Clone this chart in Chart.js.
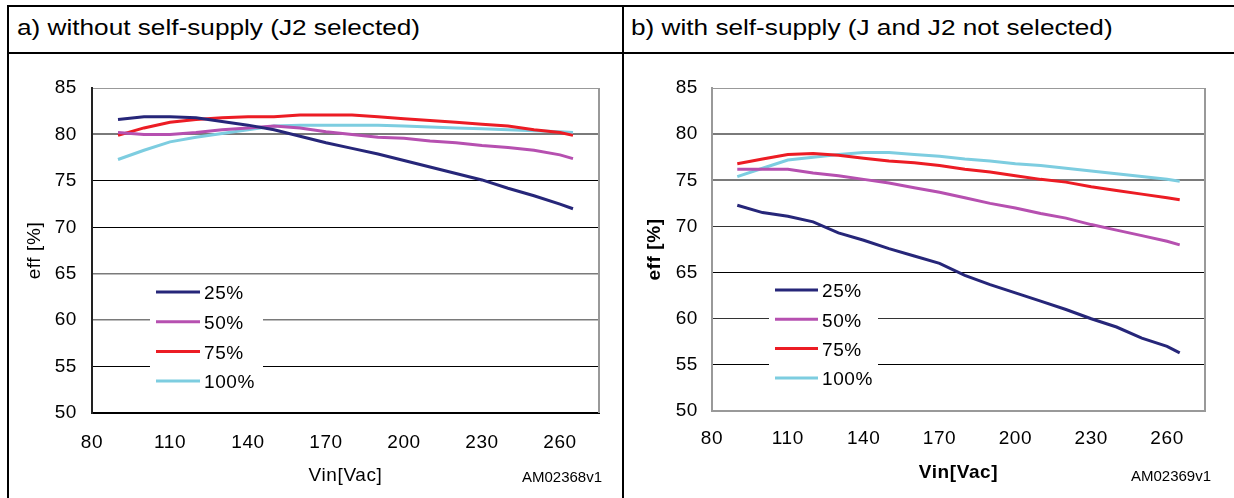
<!DOCTYPE html>
<html><head><meta charset="utf-8">
<script src="https://cdn.jsdelivr.net/npm/chart.js@4.4.0/dist/chart.umd.min.js"></script>
<style>
html,body{margin:0;padding:0;background:#fff;}
body{width:1234px;height:498px;position:relative;overflow:hidden;font-family:"Liberation Sans",Arial,sans-serif;color:#000;}
.ln{position:absolute;background:#000;}
.hdr{position:absolute;top:17px;font-size:22px;line-height:22px;white-space:nowrap;transform:scaleX(1.19);transform-origin:left top;}
.am{position:absolute;font-size:15px;line-height:15px;white-space:nowrap;}
canvas{position:absolute;}
</style></head>
<body>
<div class="ln" style="left:7px;top:5px;width:2px;height:493px"></div>
<div class="ln" style="left:7px;top:5px;width:1227px;height:2px"></div>
<div class="ln" style="left:7px;top:52px;width:1227px;height:2px"></div>
<div class="ln" style="left:622px;top:5px;width:2px;height:493px"></div>
<div class="hdr" style="left:17px">a) without self-supply (J2 selected)</div>
<div class="hdr" style="left:631px">b) with self-supply (J and J2 not selected)</div>
<canvas id="ca" width="612" height="443" style="left:10px;top:55px"></canvas>
<canvas id="cb" width="609" height="443" style="left:625px;top:55px"></canvas>
<div class="am" style="left:522px;top:469px">AM02368v1</div>
<div class="am" style="left:1131px;top:468px">AM02369v1</div>
<script>
// ---- data ----
const vin = [90,100,110,120,130,140,150,160,170,180,190,200,210,220,230,240,250,260,265];
const seriesNames = ['25%','50%','75%','100%'];
const a25  = [81.6,81.9,81.9,81.8,81.4,81.0,80.5,79.8,79.1,78.5,77.9,77.2,76.5,75.8,75.1,74.2,73.4,72.5,72.0];
const a50  = [80.2,80.0,80.0,80.2,80.5,80.7,80.9,80.7,80.3,80.0,79.7,79.6,79.3,79.1,78.8,78.6,78.3,77.8,77.4];
const a75  = [79.9,80.7,81.3,81.6,81.8,81.9,81.9,82.1,82.1,82.1,81.9,81.7,81.5,81.3,81.1,80.9,80.5,80.2,79.9];
const a100 = [77.3,78.3,79.2,79.7,80.1,80.5,80.9,81.0,81.0,81.0,81.0,80.9,80.8,80.7,80.6,80.5,80.4,80.3,80.2];
const b25  = [72.3,71.5,71.1,70.5,69.3,68.5,67.6,66.8,66.0,64.7,63.7,62.8,61.9,61.0,60.0,59.1,57.9,57.0,56.3];
const b50  = [76.2,76.2,76.2,75.8,75.5,75.1,74.7,74.2,73.7,73.1,72.5,72.0,71.4,70.9,70.2,69.6,69.0,68.4,68.0];
const b75  = [76.8,77.3,77.8,77.9,77.7,77.4,77.1,76.9,76.6,76.2,75.9,75.5,75.1,74.8,74.3,73.9,73.5,73.1,72.9];
const b100 = [75.4,76.3,77.2,77.5,77.8,78.0,78.0,77.8,77.6,77.3,77.1,76.8,76.6,76.3,76.0,75.7,75.4,75.1,74.9];
const xTicks = [80,110,140,170,200,230,260];
const yTicks = [50,55,60,65,70,75,80,85];
const xMin = 80, xMax = 275, yMin = 50, yMax = 85;

// ---- styles ----
const colors = ['#262679','#b650b0','#ec1c24','#7dcde0'];
const FONT = '"Liberation Sans", Arial, sans-serif';
const FS = 19;
const SPACING = '0.6px';

function pts(arr){ return arr.map((v,i)=>({x:vin[i], y:v})); }

const legendPlugin = {
  id:'boxLegend',
  afterInit(chart){ chart.ctx.letterSpacing = SPACING; },
  beforeDraw(chart){ chart.ctx.letterSpacing = SPACING; },
  beforeDatasetsDraw(chart, args, o){
    const ca = chart.chartArea, ctx = chart.ctx;
    ctx.save();
    ctx.fillStyle = '#fff';
    ctx.fillRect(ca.left + o.boxL, ca.top + o.boxT, o.boxW, o.boxH);
    ctx.font = FS + 'px ' + FONT;
    ctx.textBaseline = 'middle';
    ctx.textAlign = 'left';
    chart.data.datasets.forEach((ds,i)=>{
      const y = ca.top + o.row0 + i*o.rowH;
      ctx.strokeStyle = ds.borderColor;
      ctx.lineWidth = 3;
      ctx.beginPath();
      ctx.moveTo(ca.left + o.lineL, y);
      ctx.lineTo(ca.left + o.lineL + o.lineW, y);
      ctx.stroke();
      ctx.fillStyle = '#000';
      ctx.fillText(ds.label, ca.left + o.lineL + o.lineW + 4, y + 2);
    });
    ctx.restore();
  },
  afterDraw(chart, args, o){
    const ca = chart.chartArea, ctx = chart.ctx;
    ctx.save();
    ctx.strokeStyle = o.rightColor;
    ctx.lineWidth = 2;
    ctx.beginPath();
    ctx.moveTo(ca.right, ca.top);
    ctx.lineTo(ca.right, ca.bottom);
    ctx.stroke();
    ctx.restore();
  }
};

function build(id, data, cfg){
  return new Chart(document.getElementById(id), {
    type:'line',
    data:{ datasets: data.map((d,i)=>({
      label: seriesNames[i], data: pts(d), borderColor: colors[i], backgroundColor: colors[i],
      borderWidth: 3, pointRadius: 0, tension: 0, fill:false
    }))},
    options:{
      responsive:false, animation:false, devicePixelRatio:1,
      layout:{ padding:{ left:0, top:33, right:cfg.padR, bottom:0 } },
      plugins:{ legend:{display:false}, tooltip:{enabled:false}, boxLegend: cfg.legend },
      scales:{
        x:{
          type:'linear', min:xMin, max:xMax,
          afterBuildTicks: s => { s.ticks = xTicks.map(v=>({value:v})); },
          afterFit: s => { s.height = cfg.xH; },
          grid:{ display:false, drawTicks:false },
          border:{ display:true, color:cfg.xBorder, width:2 },
          ticks:{ color:'#000', font:{ family:FONT, size:FS }, padding:cfg.xPad, maxRotation:0, autoSkip:false },
          title:{ display:true, text:'Vin[Vac]', color:'#000', font:{ family:FONT, size:FS, weight:cfg.titleWeight }, padding:{ top:0, bottom:cfg.xTitlePad } }
        },
        y:{
          type:'linear', min:yMin, max:yMax,
          afterBuildTicks: s => { s.ticks = yTicks.map(v=>({value:v})); },
          afterFit: s => { s.width = cfg.yW; },
          grid:{ drawTicks:false, lineWidth: c => cfg.gridW[c.tick.value] || 1, color: c => cfg.gridC[c.tick.value] || '#000' },
          border:{ display:true, color:cfg.yBorder, width:2 },
          ticks:{ color:'#000', font:{ family:FONT, size:FS }, padding:cfg.yPad },
          title:{ display:true, text:'eff [%]', color:'#000', font:{ family:FONT, size:FS, weight:cfg.titleWeight }, padding:{ top:cfg.yTitlePad, bottom:0 } }
        }
      }
    },
    plugins:[legendPlugin]
  });
}

build('ca', [a25,a50,a75,a100], {
  padR:23, xH:85, yW:82, xPad:18, yPad:15, xTitlePad:11, yTitlePad:13, titleWeight:'normal',
  xBorder:'#000', yBorder:'#222',
  gridC:{85:'#999',80:'#7a7a7a',75:'#000',70:'#000',65:'#7a7a7a',60:'#7a7a7a',55:'#000',50:'#000'},
  gridW:{80:2,65:1.5,60:1.5},
  legend:{ boxL:58, boxT:189, boxW:113, boxH:118, lineL:64, lineW:44, row0:204, rowH:29.7, rightColor:'#999' }
});
build('cb', [b25,b50,b75,b100], {
  padR:29, xH:87, yW:87, xPad:16, yPad:14, xTitlePad:14, yTitlePad:18, titleWeight:'bold',
  xBorder:'#999', yBorder:'#999',
  gridC:{85:'#999',80:'#7a7a7a',75:'#7a7a7a',70:'#333',65:'#000',60:'#333',55:'#000',50:'#999'},
  gridW:{80:2,75:2},
  legend:{ boxL:57, boxT:188, boxW:109, boxH:118, lineL:63, lineW:43, row0:202, rowH:29.3, rightColor:'#999' }
});
</script>
</body></html>
